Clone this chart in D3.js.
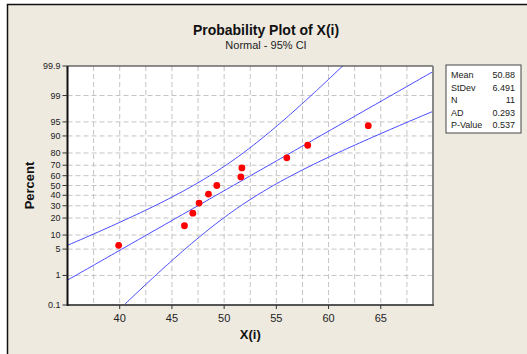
<!DOCTYPE html>
<html>
<head>
<meta charset="utf-8">
<script src="https://cdn.jsdelivr.net/npm/d3@7"></script>
<style>
  body { margin: 0; background: #fff; }
  text { font-family: "Liberation Sans", Arial, sans-serif; }
</style>
</head>
<body>
<svg width="527" height="354"></svg>
<script>
// observed values (sorted) and their plotted percentiles
var xValues = [39.9, 46.2, 47.0, 47.6, 48.5, 49.3, 51.6, 51.7, 56.0, 58.0, 63.8];
var percents = [6.1, 14.9, 23.7, 32.5, 41.2, 50.0, 58.8, 67.5, 76.3, 85.1, 93.9];

var yTicks = [0.1, 1, 5, 10, 20, 30, 40, 50, 60, 70, 80, 90, 95, 99, 99.9];
var xTicks = [40, 45, 50, 55, 60, 65];
var xGrid = [37.5, 40, 42.5, 45, 47.5, 50, 52.5, 55, 57.5, 60, 62.5, 65, 67.5];

var statNames = ["Mean", "StDev", "N", "AD", "P-Value"];
var statValues = ["50.88", "6.491", "11", "0.293", "0.537"];

var mean = 50.88, sd = 6.491, n = 11;

// inverse normal cdf (Acklam)
function qnorm(p) {
  var a = [-39.69683028665376, 220.9460984245205, -275.9285104469687, 138.3577518672690, -30.66479806614716, 2.506628277459239];
  var b = [-54.47609879822406, 161.5858368580409, -155.6989798598866, 66.80131188771972, -13.28068155288572];
  var c = [-0.007784894002430293, -0.3223964580411365, -2.400758277161838, -2.549732539343734, 4.374664141464968, 2.938163982698783];
  var d = [0.007784695709041462, 0.3224671290700398, 2.445134137142996, 3.754408661907416];
  var q, r;
  if (p < 0.02425) {
    q = Math.sqrt(-2 * Math.log(p));
    return (((((c[0]*q+c[1])*q+c[2])*q+c[3])*q+c[4])*q+c[5]) / ((((d[0]*q+d[1])*q+d[2])*q+d[3])*q+1);
  } else if (p > 1 - 0.02425) {
    q = Math.sqrt(-2 * Math.log(1 - p));
    return -(((((c[0]*q+c[1])*q+c[2])*q+c[3])*q+c[4])*q+c[5]) / ((((d[0]*q+d[1])*q+d[2])*q+d[3])*q+1);
  }
  q = p - 0.5; r = q * q;
  return (((((a[0]*r+a[1])*r+a[2])*r+a[3])*r+a[4])*r+a[5])*q / (((((b[0]*r+b[1])*r+b[2])*r+b[3])*r+b[4])*r+1);
}

var svg = d3.select("svg");

var pLeft = 67.5, pRight = 433, pTop = 66, pBottom = 305;

// window frame
svg.append("rect").attr("x", 7).attr("y", 4).attr("width", 527).attr("height", 360)
  .attr("fill", "#eeeae0");
svg.append("path").attr("d", "M7.5,354V4.5H527").attr("fill", "none")
  .attr("stroke", "#111").attr("stroke-width", 1.5);

var x = d3.scaleLinear().domain([35, 70]).range([pLeft, pRight]);
var y = d3.scaleLinear().domain([qnorm(0.001), qnorm(0.999)]).range([pBottom, pTop]);

svg.append("rect").attr("x", pLeft).attr("y", pTop)
  .attr("width", pRight - pLeft).attr("height", pBottom - pTop).attr("fill", "#fff");

svg.append("defs").append("clipPath").attr("id", "clip")
  .append("rect").attr("x", pLeft).attr("y", pTop)
  .attr("width", pRight - pLeft).attr("height", pBottom - pTop);

// grid
svg.selectAll(".vgrid").data(xGrid).enter().append("line")
  .attr("x1", function(d) { return x(d); }).attr("x2", function(d) { return x(d); })
  .attr("y1", pTop).attr("y2", pBottom)
  .attr("stroke", "#c4c4c4").attr("stroke-dasharray", "5,3");

svg.selectAll(".hgrid").data(yTicks.slice(1, -1)).enter().append("line")
  .attr("x1", pLeft).attr("x2", pRight)
  .attr("y1", function(d) { return y(qnorm(d / 100)); })
  .attr("y2", function(d) { return y(qnorm(d / 100)); })
  .attr("stroke", "#c4c4c4").attr("stroke-dasharray", "5,3");

// fitted line and confidence bands
var zs = d3.range(-3.6, 3.61, 0.05);
function half(z) {
  return 1.96 * Math.sqrt(sd * sd * (1 / n + z * z / (2 * (n - 1))));
}
var curve = function(f) {
  return d3.line().x(function(z) { return x(f(z)); }).y(function(z) { return y(z); })(zs);
};
var g = svg.append("g").attr("clip-path", "url(#clip)");
[function(z) { return mean + z * sd; },
 function(z) { return mean + z * sd - half(z); },
 function(z) { return mean + z * sd + half(z); }].forEach(function(f) {
  g.append("path").attr("d", curve(f)).attr("fill", "none")
    .attr("stroke", "#4a4aff").attr("stroke-width", 1);
});

// points
svg.selectAll(".pt").data(xValues).enter().append("circle")
  .attr("cx", function(d) { return x(d); })
  .attr("cy", function(d, i) { return y(qnorm(percents[i] / 100)); })
  .attr("r", 3.4).attr("fill", "#f00");

// plot border
svg.append("line").attr("x1", pLeft).attr("x2", pRight).attr("y1", pTop).attr("y2", pTop)
  .attr("stroke", "#222").attr("stroke-width", 1);
svg.append("line").attr("x1", pRight).attr("x2", pRight).attr("y1", pTop).attr("y2", pBottom)
  .attr("stroke", "#888").attr("stroke-width", 2);
svg.append("line").attr("x1", pLeft).attr("x2", pRight + 1).attr("y1", pBottom).attr("y2", pBottom)
  .attr("stroke", "#555").attr("stroke-width", 2);
svg.append("line").attr("x1", pLeft).attr("x2", pLeft).attr("y1", pTop).attr("y2", pBottom + 1)
  .attr("stroke", "#111").attr("stroke-width", 2);

// axes ticks and labels
svg.selectAll(".yt").data(yTicks).enter().append("line")
  .attr("x1", pLeft - 5).attr("x2", pLeft)
  .attr("y1", function(d) { return y(qnorm(d / 100)); })
  .attr("y2", function(d) { return y(qnorm(d / 100)); })
  .attr("stroke", "#333");
svg.selectAll(".yl").data(yTicks).enter().append("text")
  .attr("x", pLeft - 7)
  .attr("y", function(d) { return y(qnorm(d / 100)) + 3; })
  .attr("text-anchor", "end").attr("font-size", 9).attr("fill", "#222")
  .text(function(d) { return d; });

svg.selectAll(".xt").data(xTicks).enter().append("line")
  .attr("x1", function(d) { return x(d); }).attr("x2", function(d) { return x(d); })
  .attr("y1", pBottom).attr("y2", pBottom + 4)
  .attr("stroke", "#333");
svg.selectAll(".xl").data(xTicks).enter().append("text")
  .attr("x", function(d) { return x(d); }).attr("y", pBottom + 17)
  .attr("text-anchor", "middle").attr("font-size", 11).attr("fill", "#222")
  .text(function(d) { return d; });

// titles
svg.append("text").attr("x", 266).attr("y", 35).attr("text-anchor", "middle")
  .attr("font-size", 14).attr("font-weight", "bold").attr("fill", "#111")
  .text("Probability Plot of X(i)");
svg.append("text").attr("x", 266).attr("y", 49).attr("text-anchor", "middle")
  .attr("font-size", 11).attr("fill", "#222")
  .text("Normal - 95% CI");
svg.append("text").attr("x", (pLeft + pRight) / 2).attr("y", 339).attr("text-anchor", "middle")
  .attr("font-size", 13).attr("font-weight", "bold").attr("fill", "#111")
  .text("X(i)");
svg.append("text").attr("transform", "translate(34," + y(0) + ") rotate(-90)")
  .attr("text-anchor", "middle")
  .attr("font-size", 13).attr("font-weight", "bold").attr("fill", "#111")
  .text("Percent");

// stats box
var box = svg.append("g").attr("transform", "translate(446,65)");
box.append("rect").attr("width", 75).attr("height", 68)
  .attr("fill", "#fff").attr("stroke", "#444").attr("stroke-width", 1);
statNames.forEach(function(s, i) {
  box.append("text").attr("x", 5).attr("y", 13 + i * 12.6)
    .attr("font-size", 9).attr("fill", "#222").text(s);
  box.append("text").attr("x", 69).attr("y", 13 + i * 12.6).attr("text-anchor", "end")
    .attr("font-size", 9).attr("fill", "#222").text(statValues[i]);
});
</script>
</body>
</html>
